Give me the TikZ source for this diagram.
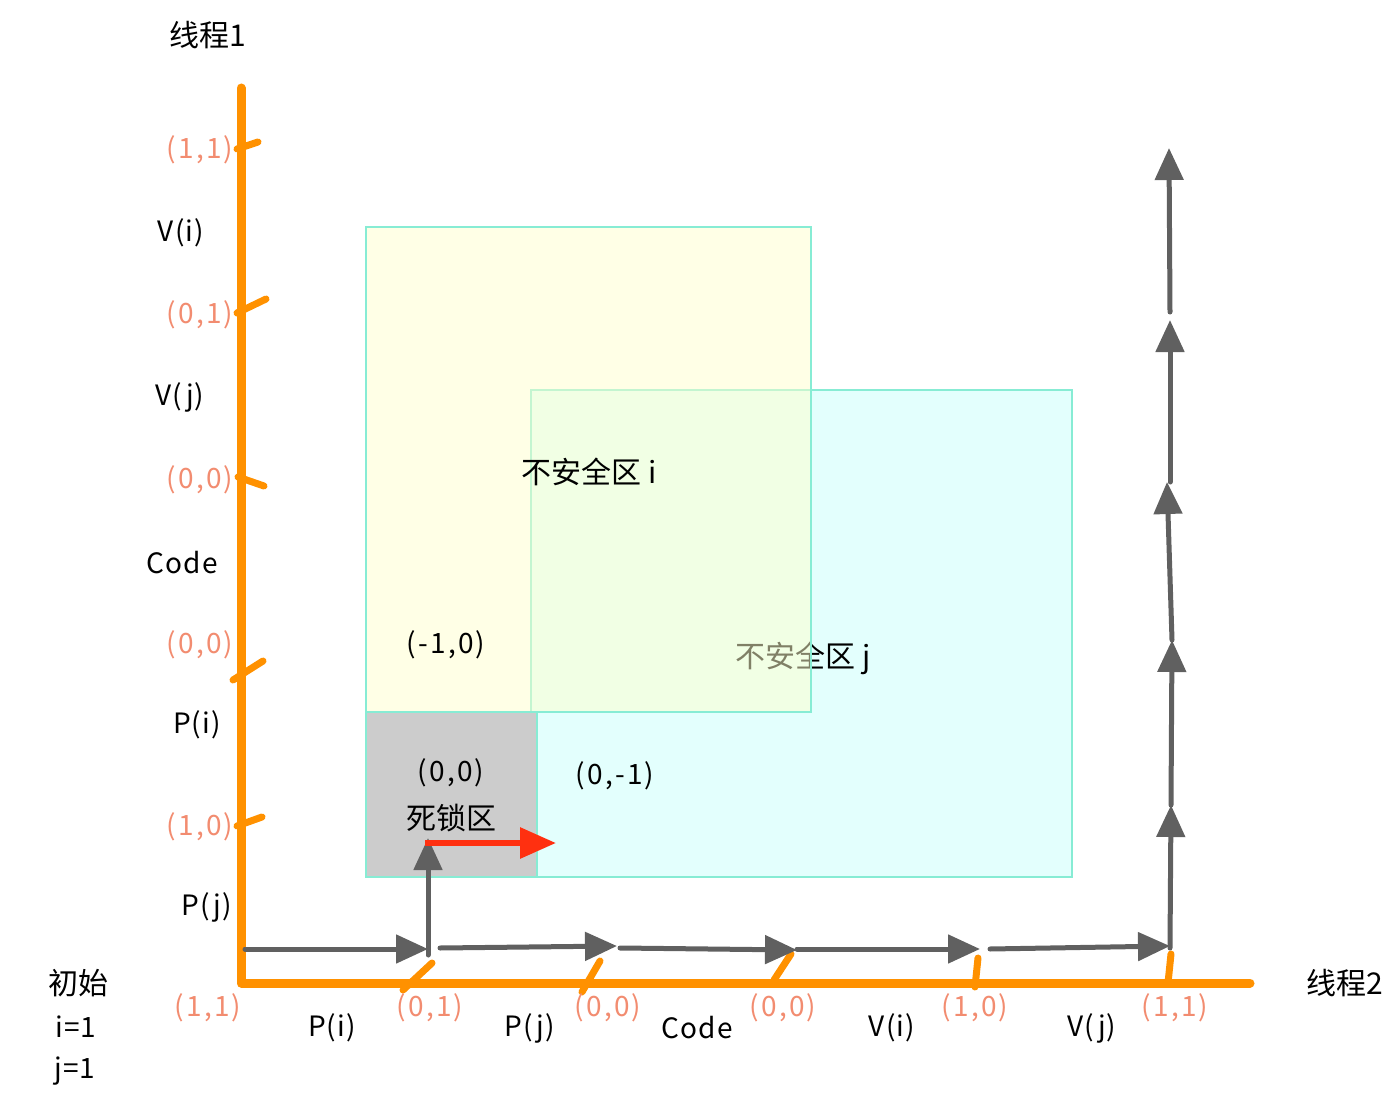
\documentclass[tikz,border=0pt]{standalone}
\usepackage{fontspec}
\setmainfont{Noto Sans CJK SC}
\newfontfamily\tuplefont[LetterSpace=8]{Noto Sans CJK SC}
\newfontfamily\wordfont[LetterSpace=4]{Noto Sans CJK SC}
\usetikzlibrary{arrows.meta}
\definecolor{axisorange}{RGB}{255,145,0}
\definecolor{lblsalmon}{RGB}{242,140,112}
\definecolor{arrowgray}{RGB}{96,96,96}
\definecolor{redarrow}{RGB}{255,48,16}
\definecolor{zoneborder}{RGB}{135,236,212}
\definecolor{zonei}{RGB}{255,255,205}
\definecolor{zonej}{RGB}{227,255,253}
\definecolor{deadgray}{RGB}{204,204,204}
\tikzset{
  axisline/.style={draw=axisorange,line width=9pt,line cap=round,line join=round},
  tickline/.style={draw=axisorange,line width=7pt,line cap=round},
  garrow/.style={draw=arrowgray,line width=5pt,line cap=round,-{Triangle[length=32pt,width=28pt]}},
  rarrow/.style={draw=redarrow,line width=6pt,-{Triangle[length=36pt,width=30pt]}},
  lbl/.style={text=lblsalmon,font=\tuplefont\fontsize{28}{32}\selectfont,inner sep=0pt},
  tup/.style={text=black,font=\tuplefont\fontsize{28}{32}\selectfont,inner sep=0pt},
  txt/.style={text=black,font=\wordfont\fontsize{28}{32}\selectfont,inner sep=0pt},
  cjk/.style={text=black,font=\fontsize{30}{34}\selectfont,inner sep=0pt}
}
\tikzset{zone/.style={draw=zoneborder,line width=2pt}}
\begin{document}
\begin{tikzpicture}[x=1pt,y=-1pt]
\useasboundingbox (0,0) rectangle (1398,1102);
% zone j
\fill[zonej] (531,390) rectangle (1072,877);
\node[cjk] (uzj) at (803,658) {不安全区 j};
\draw[zone] (531,390) rectangle (1072,877);
% zone i (semi-transparent)
\fill[zonei,fill opacity=0.5] (366,227) rectangle (811,712);
\draw[zone] (366,227) rectangle (811,712);
% deadlock zone
\fill[deadgray] (366,712) rectangle (537,877);
\draw[zone] (366,712) rectangle (537,877);
% zone texts
\node[cjk] (uzi) at (589,472) {不安全区 i};
\node[tup] (m10) at (446,645) {(-1,0)};
\node[tup] (d00) at (451,773) {(0,0)};
\node[cjk] (dz) at (451,818) {死锁区};
\node[tup] (m01) at (615,776) {(0,-1)};
% axes
\coordinate (ytop) at (241,88);
\coordinate (org) at (241,983);
\coordinate (xend) at (1250,983);
\draw[axisline] (ytop) -- (org) -- (xend);
% ticks on thread 1 axis
\draw[tickline] (237,149) -- (258,142);
\draw[tickline] (237,313) -- (266,299);
\draw[tickline] (238,477) -- (264,486);
\draw[tickline] (233,680) -- (263,661);
\draw[tickline] (237,826) -- (262,817);
% ticks on thread 2 axis
\draw[tickline] (403,990) -- (432,963);
\draw[tickline] (582,992) -- (600,961);
\draw[tickline] (774,980) -- (791,954);
\draw[tickline] (975,987) -- (978,958);
\draw[tickline] (1168,983) -- (1171,954);
% axis titles
\node[cjk] (t1) at (208,35) {线程1};
\node[cjk] (t2) at (1345,983) {线程2};
% thread 1 labels
\node[lbl] (a1) at (200,150) {(1,1)};
\node[lbl] (a2) at (200,315) {(0,1)};
\node[lbl] (a3) at (200,480) {(0,0)};
\node[lbl] (a4) at (200,645) {(0,0)};
\node[lbl] (a5) at (200,827) {(1,0)};
\node[txt] (b1) at (181,233) {V(i)};
\node[txt] (b2) at (180,397) {V(j)};
\node[txt] (b3) at (182,563) {Code};
\node[txt] (b4) at (197,725) {P(i)};
\node[txt] (b5) at (207,907) {P(j)};
% thread 2 labels
\node[lbl] (c0) at (208,1008) {(1,1)};
\node[lbl] (c1) at (430,1008) {(0,1)};
\node[lbl] (c2) at (608,1008) {(0,0)};
\node[lbl] (c3) at (783,1008) {(0,0)};
\node[lbl] (c4) at (975,1008) {(1,0)};
\node[lbl] (c5) at (1175,1008) {(1,1)};
\node[txt] (e1) at (332,1028) {P(i)};
\node[txt] (e2) at (530,1028) {P(j)};
\node[txt] (e3) at (697,1028) {Code};
\node[txt] (e4) at (892,1028) {V(i)};
\node[txt] (e5) at (1092,1028) {V(j)};
% initial state
\node[cjk] (i0) at (78,983) {初始};
\node[txt] (i1) at (76,1027) {i=1};
\node[txt] (i2) at (75,1071) {j=1};
% path coordinates
\coordinate (h0) at (245,949);
\coordinate (h1) at (428,949);
\coordinate (h1s) at (440,948);
\coordinate (h2) at (617,946);
\coordinate (h2s) at (620,948);
\coordinate (h3) at (797,950);
\coordinate (h3s) at (797,949);
\coordinate (h4) at (980,949);
\coordinate (h4s) at (990,949);
\coordinate (h5) at (1170,946);
\coordinate (v0) at (428,955);
\coordinate (v1) at (428,838);
\coordinate (r0) at (425,843);
\coordinate (r1) at (556,843);
\coordinate (u0) at (1170,948);
\coordinate (u1) at (1171,805);
\coordinate (u2) at (1172,640);
\coordinate (u3) at (1167,482);
\coordinate (u3s) at (1170,482);
\coordinate (u4) at (1170,320);
\coordinate (u4s) at (1170,312);
\coordinate (u5) at (1169,148);
% gray path arrows
\draw[garrow] (h0) -- (h1);
\draw[garrow] (h1s) -- (h2);
\draw[garrow] (h2s) -- (h3);
\draw[garrow] (h3s) -- (h4);
\draw[garrow] (h4s) -- (h5);
\draw[garrow] (v0) -- (v1);
\draw[garrow] (u0) -- (u1);
\draw[garrow] (u1) -- (u2);
\draw[garrow] (u2) -- (u3);
\draw[garrow] (u3s) -- (u4);
\draw[garrow] (u4s) -- (u5);
% red arrow
\draw[rarrow] (r0) -- (r1);
\end{tikzpicture}
\end{document}
